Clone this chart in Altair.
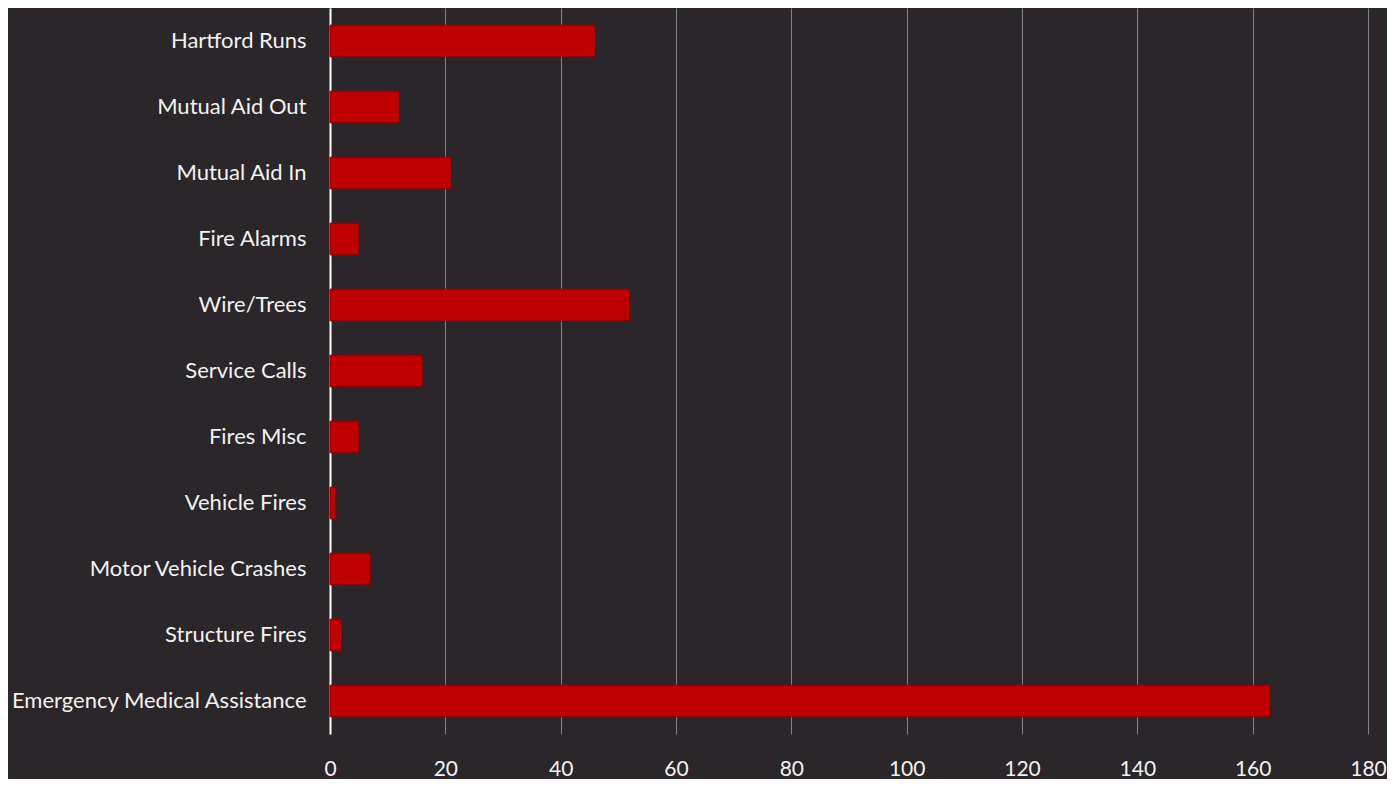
import altair as alt
import pandas as pd

categories = [
    "Hartford Runs",
    "Mutual Aid Out",
    "Mutual Aid In",
    "Fire Alarms",
    "Wire/Trees",
    "Service Calls",
    "Fires Misc",
    "Vehicle Fires",
    "Motor Vehicle Crashes",
    "Structure Fires",
    "Emergency Medical Assistance",
]
values = [46, 12, 21, 5, 52, 16, 5, 1, 7, 2, 163]
x_ticks = [0, 20, 40, 60, 80, 100, 120, 140, 160, 180]

df = pd.DataFrame({"category": categories, "count": values})

FONT = "Lato"
TEXT = "#f2f2f2"

bars = alt.Chart(df).mark_bar(color="#c00000", stroke="#8a0000", strokeWidth=1).encode(
    y=alt.Y(
        "category:N",
        sort=categories,
        title=None,
        scale=alt.Scale(paddingInner=0.52, paddingOuter=0.26),
        axis=alt.Axis(
            labelFont=FONT,
            labelFontSize=22,
            labelColor=TEXT,
            labelPadding=24,
            labelLimit=400,
            ticks=False,
            domain=True,
            domainColor="#ffffff",
            domainWidth=2,
            grid=False,
            minExtent=322,
            maxExtent=322,
        ),
    ),
    x=alt.X(
        "count:Q",
        title=None,
        scale=alt.Scale(domain=[0, 180], nice=False),
        axis=alt.Axis(
            values=x_ticks,
            labelFont=FONT,
            labelFontSize=21,
            labelColor=TEXT,
            labelPadding=24,
            labelFlush=False,
            ticks=False,
            domain=False,
            grid=True,
            gridColor="#9a98a0",
            gridWidth=1,
            gridOpacity=0.8,
        ),
    ),
)

chart = (
    bars.properties(width=1038, height=726, padding={"left": 0, "top": 0, "right": 0, "bottom": 0})
    .configure(background="#2a2629")
    .configure_view(stroke=None)
)

chart.save("out.html", embed_options={"renderer": "svg", "actions": False})
